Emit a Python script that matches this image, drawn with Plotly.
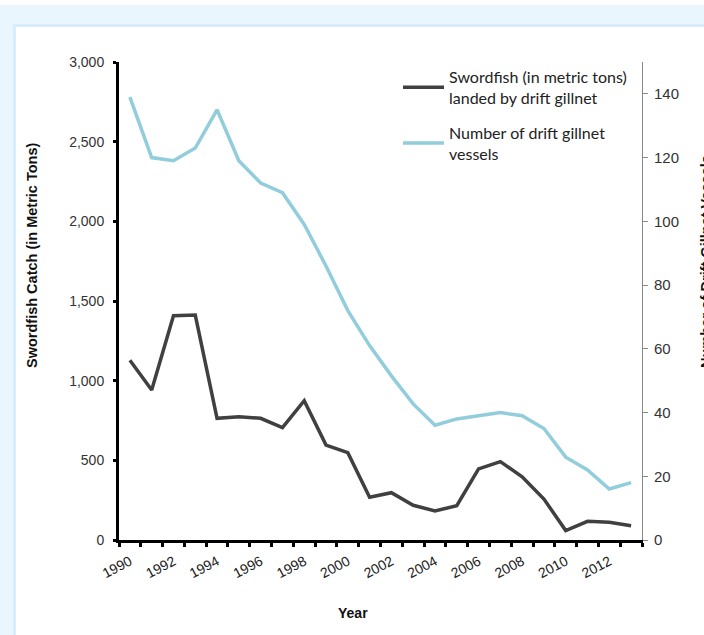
import plotly.graph_objects as go

years = list(range(1990, 2014))
swordfish_tons = [1128, 941, 1408, 1412, 764, 774, 764, 705, 874, 596, 548, 268,
                  297, 218, 182, 215, 446, 492, 397, 257, 59, 117, 111, 90]
vessels = [139, 120, 119, 123, 135, 119, 112, 109, 99, 86, 72, 61,
           51.5, 42.7, 36, 38, 39, 40, 39, 35, 26, 22, 16, 18]
x_tick_labels = [str(y) for y in range(1990, 2013, 2)]

W, H = 704, 635
L, R, T, B = 119, 62, 62, 95
pw, ph = W - L - R, H - T - B

def px(x):
    return (x - L) / pw

def py(y):
    return (H - B - y) / ph

AX = "Liberation Sans, Arial, sans-serif"

fig = go.Figure()
fig.add_trace(go.Scatter(
    x=years, y=swordfish_tons, mode="lines", yaxis="y",
    name="Swordfish (in metric tons)<br>landed by drift gillnet",
    line=dict(color="#404040", width=3.5), legendgroup="a"))
fig.add_trace(go.Scatter(
    x=years, y=vessels, mode="lines", yaxis="y2",
    name="Number of drift gillnet<br>vessels",
    line=dict(color="#92CDDC", width=3.5), legendgroup="b"))

fig.update_layout(
    width=W, height=H,
    margin=dict(l=L, r=R, t=T, b=B),
    paper_bgcolor="#eaf6fe",
    plot_bgcolor="white",
    showlegend=True,
    legend=dict(x=px(398), y=py(60), xanchor="left", yanchor="top",
                bgcolor="rgba(0,0,0,0)", itemwidth=41, tracegroupgap=11,
                font=dict(family="Lato, sans-serif", size=16, color="#222")),
    xaxis=dict(range=[1989.5, 2013.5], tickvals=[int(t) for t in x_tick_labels],
               ticktext=x_tick_labels, tickangle=-28, ticks="", ticklabelstandoff=5,
               showline=True, linecolor="black", linewidth=3, showgrid=False,
               zeroline=False, tickfont=dict(family=AX, size=14, color="#222"),
               minor=dict(tick0=1989.5, dtick=1, ticks="outside", ticklen=4,
                          tickwidth=3, tickcolor="black", showgrid=False)),
    yaxis=dict(range=[0, 3000], dtick=500, tickformat=",", ticks="outside",
               ticklen=3, tickwidth=3, tickcolor="black", showline=True,
               linecolor="black", linewidth=3, showgrid=False, zeroline=False,
               ticklabelstandoff=6,
               tickfont=dict(family=AX, size=14, color="#333")),
    yaxis2=dict(range=[0, 150], tickvals=[0, 20, 40, 60, 80, 100, 120, 140],
                overlaying="y", side="right", ticks="outside", ticklen=5,
                tickwidth=1, tickcolor="#888", showline=True, linecolor="#888",
                linewidth=1, showgrid=False, zeroline=False, ticklabelstandoff=3,
                tickfont=dict(family=AX, size=15, color="#333")),
    shapes=[
        dict(type="rect", xref="paper", yref="paper", layer="below",
             x0=px(-50), x1=px(760), y0=py(5), y1=py(-50),
             fillcolor="white", line=dict(width=0)),
        dict(type="rect", xref="paper", yref="paper", layer="below",
             x0=px(14.5), x1=px(780), y0=py(700), y1=py(25.5),
             fillcolor="white", line=dict(color="#d5edfc", width=3)),
    ],
    annotations=[
        dict(text="<b>Year</b>", xref="paper", yref="paper", x=px(353), y=py(613),
             showarrow=False, xanchor="center", yanchor="middle",
             font=dict(family=AX, size=14, color="#111")),
        dict(text="<b>Swordfish Catch (in Metric Tons)</b>", xref="paper", yref="paper",
             x=px(32), y=py(256), textangle=-90, showarrow=False,
             xanchor="center", yanchor="middle",
             font=dict(family=AX, size=14.5, color="#111")),
        dict(text="<b>Number of Drift Gillnet Vessels</b>", xref="paper", yref="paper",
             x=px(706), y=py(262), textangle=-90, showarrow=False,
             xanchor="center", yanchor="middle",
             font=dict(family=AX, size=14.5, color="#111")),
    ],
)

fig.write_html(
    "out.html",
    config={"displayModeBar": False},
    post_script="document.body.style.margin='0';document.body.style.overflow='hidden';",
)
